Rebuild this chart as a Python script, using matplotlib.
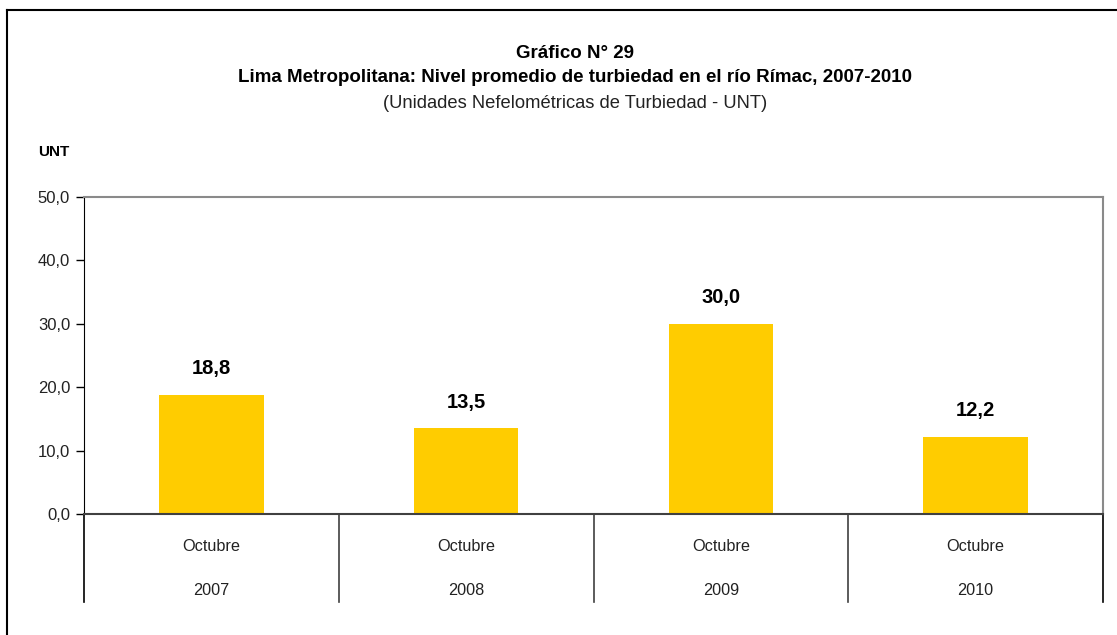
import matplotlib
matplotlib.use("Agg")
import matplotlib.pyplot as plt
from matplotlib.lines import Line2D

# ── datos ──────────────────────────────────────────
meses = ["Octubre", "Octubre", "Octubre", "Octubre"]
anios = ["2007", "2008", "2009", "2010"]
turbiedad = [18.8, 13.5, 30.0, 12.2]
y_ticks = [0, 10, 20, 30, 40, 50]

BAR_COLOR = "#FFCC00"
plt.rcParams["font.family"] = ["Liberation Sans Narrow", "Liberation Sans", "DejaVu Sans"]


def coma(v):
    return f"{v:.1f}".replace(".", ",")


fig = plt.figure(figsize=(11.17, 6.35), dpi=100)
fig.patch.set_facecolor("white")

# marco exterior (solo arriba e izquierda visibles)
fig.add_artist(Line2D([7 / 1117, 7 / 1117], [0, 1 - 10 / 635],
                      transform=fig.transFigure, color="black", lw=1.5))
fig.add_artist(Line2D([7 / 1117, 1], [1 - 10 / 635, 1 - 10 / 635],
                      transform=fig.transFigure, color="black", lw=1.5))

# títulos
fig.text(0.515, 1 - 53 / 635, "Gráfico N° 29", ha="center", va="center",
         fontsize=13.5, fontweight="bold")
fig.text(0.515, 1 - 78 / 635,
         "Lima Metropolitana: Nivel promedio de turbiedad en el río Rímac, 2007-2010",
         ha="center", va="center", fontsize=13.5, fontweight="bold")
fig.text(0.515, 1 - 103 / 635,
         "(Unidades Nefelométricas de Turbiedad - UNT)",
         ha="center", va="center", fontsize=13.2, color="#222222")
fig.text(38 / 1117, 1 - 152 / 635, "UNT", ha="left", va="center",
         fontsize=11, fontweight="bold")

ax = fig.add_axes([84 / 1117, 1 - 514 / 635, (1103 - 84) / 1117, (514 - 197) / 635])
x = list(range(len(turbiedad)))
ax.bar(x, turbiedad, width=0.41, color=BAR_COLOR, zorder=2)

for xi, v in zip(x, turbiedad):
    ax.annotate(coma(v), (xi, v), xytext=(0, 12), textcoords="offset points",
                ha="center", va="bottom", fontsize=14.5, fontweight="bold")

ax.set_xlim(-0.5, len(turbiedad) - 0.5)
ax.set_ylim(0, 50)
ax.set_yticks(y_ticks)
ax.set_yticklabels([coma(t) for t in y_ticks], fontsize=12, color="#222222")
ax.tick_params(axis="y", direction="out", length=6, width=1, pad=4)
ax.set_xticks([])

ax.spines["top"].set_color("#8a8a8a")
ax.spines["right"].set_color("#8a8a8a")
ax.spines["top"].set_linewidth(1.5)
ax.spines["right"].set_linewidth(1.5)
ax.spines["left"].set_color("black")
ax.spines["bottom"].set_color("#404040")
ax.spines["bottom"].set_linewidth(1.5)

# etiquetas de categoría en dos niveles
tr = ax.get_xaxis_transform()
for xi, (m, a) in enumerate(zip(meses, anios)):
    ax.text(xi, -0.104, m, transform=tr, ha="center", va="center", fontsize=11.7, color="#222222")
    ax.text(xi, -0.240, a, transform=tr, ha="center", va="center", fontsize=11.7, color="#222222")

for sep in [i - 0.5 for i in range(len(turbiedad) + 1)]:
    ax.plot([sep, sep], [0, -0.278], transform=tr,
            color="#404040" if 0 < sep < 3 else "black", lw=1.2, clip_on=False)

fig.savefig("out.png", dpi=100, facecolor="white")
